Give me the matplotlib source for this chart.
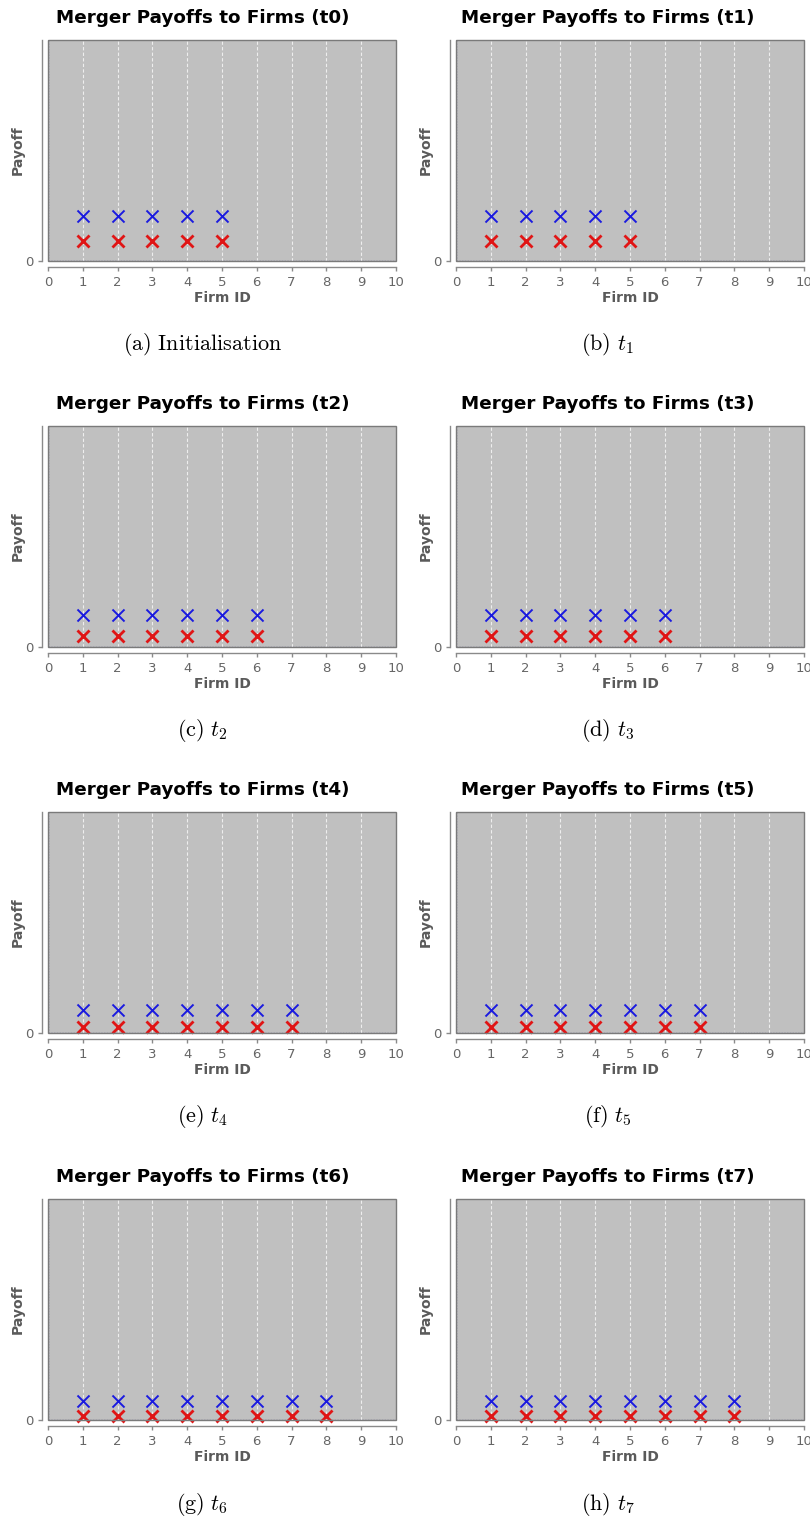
import numpy as np
import matplotlib
matplotlib.use("Agg")
import matplotlib.pyplot as plt
from matplotlib.patches import Rectangle

plt.rcParams['mathtext.fontset'] = 'cm'

# payoffs per period (y axis runs 0..1, only the zero is labelled)
periods = ['t0', 't1', 't2', 't3', 't4', 't5', 't6', 't7']
n_firms = [5, 5, 6, 6, 7, 7, 8, 8]
blue_payoff = [0.204, 0.204, 0.145, 0.145, 0.104, 0.104, 0.086, 0.086]
red_payoff = [0.090, 0.090, 0.050, 0.050, 0.027, 0.027, 0.018, 0.018]
captions = [r'$\mathrm{(a)\ Initialisation}$', r'$\mathrm{(b)}\ t_1$',
            r'$\mathrm{(c)}\ t_2$', r'$\mathrm{(d)}\ t_3$',
            r'$\mathrm{(e)}\ t_4$', r'$\mathrm{(f)}\ t_5$',
            r'$\mathrm{(g)}\ t_6$', r'$\mathrm{(h)}\ t_7$']
xticks = list(range(0, 11))

W, H = 810, 1519
fig = plt.figure(figsize=(W / 100, H / 100), dpi=100)

col_left = [48, 456]
row_top = [40, 426, 812, 1199]
ax_w, ax_h = 348, 221
grey = '#5a5a5a'

for i, period in enumerate(periods):
    r, c = divmod(i, 2)
    x0, y0 = col_left[c], row_top[r]
    ax = fig.add_axes([x0 / W, 1 - (y0 + ax_h) / H, ax_w / W, ax_h / H])
    ax.set_facecolor('#c0c0c0')
    ax.set_xlim(0, 10)
    ax.set_ylim(0, 1)

    ids = np.arange(1, n_firms[i] + 1)
    ax.scatter(ids, [blue_payoff[i]] * len(ids), marker='x', s=75,
               color='#1a1ae0', linewidths=1.4, zorder=3, clip_on=False)
    ax.scatter(ids, [red_payoff[i]] * len(ids), marker='x', s=75,
               color='#e01515', linewidths=2.0, zorder=3, clip_on=False)

    for xv in xticks[1:-1]:
        ax.axvline(xv, color='#eeeeee', lw=0.8, ls=(0, (3, 2)), zorder=1)
    ax.axvline(0, color='#6a6a9a', lw=1.0, ls=(0, (1, 1)), zorder=2)
    ax.axhline(0, color='#6a6a9a', lw=1.0, ls=(0, (1, 1)), zorder=2)
    ax.add_patch(Rectangle((0, 0), 1, 1, transform=ax.transAxes, fill=False,
                           edgecolor='#7a7a7a', lw=1.0, zorder=4, clip_on=False))

    for side in ['top', 'right']:
        ax.spines[side].set_visible(False)
    for side in ['left', 'bottom']:
        ax.spines[side].set_position(('outward', 4))
        ax.spines[side].set_color('#8a8a8a')
        ax.spines[side].set_linewidth(1.0)

    ax.set_xticks(xticks)
    ax.set_yticks([0])
    ax.tick_params(colors='#8a8a8a', labelcolor='#666666', labelsize=9.5,
                   length=3, width=1.0)
    ax.set_xlabel('Firm ID', fontsize=10, fontweight='bold', color=grey,
                  labelpad=2)
    ax.set_ylabel('Payoff', fontsize=10, fontweight='bold', color=grey,
                  labelpad=0)

    cx = (405 * c + 202.5) / W
    fig.text(cx, 1 - (y0 - 22) / H, 'Merger Payoffs to Firms (%s)' % period,
             ha='center', va='center', fontsize=13.2, fontweight='heavy',
             color='black')
    fig.text(cx, 1 - (y0 + 305) / H, captions[i], ha='center', va='center',
             fontsize=16, color='black')

fig.savefig('out.png', dpi=100, facecolor='white')
